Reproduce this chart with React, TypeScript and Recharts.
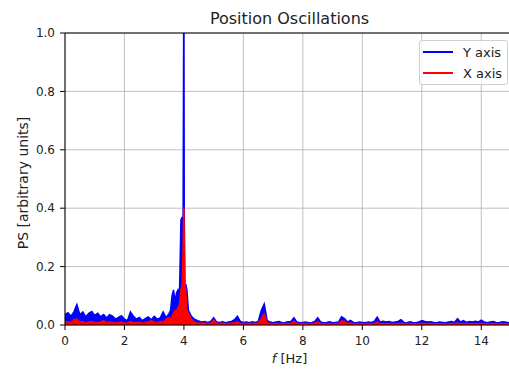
import React from "react";
import { ComposedChart, Area, XAxis, YAxis, CartesianGrid, ReferenceLine } from "recharts";

// Frequency grid (Hz)
const freqLow = [0, 0.1, 0.2, 0.3, 0.4, 0.5, 0.6, 0.7, 0.8, 0.9, 1.0, 1.1, 1.2, 1.3, 1.4, 1.5, 1.6, 1.7, 1.8, 1.9, 2.0, 2.1, 2.2, 2.3, 2.4, 2.5, 2.6, 2.7, 2.8, 2.9, 3.0, 3.1, 3.2, 3.3, 3.4, 3.5];
const freqPeak = [3.55, 3.6, 3.65, 3.7, 3.75, 3.8, 3.85, 3.9, 3.94, 3.97, 3.99, 4.0, 4.01, 4.03, 4.06, 4.1, 4.15, 4.2, 4.25, 4.3, 4.35, 4.4, 4.45];
const freqHigh = [4.5, 4.6, 4.7, 4.8, 4.9, 5.0, 5.1, 5.2, 5.3, 5.4, 5.5, 5.6, 5.7, 5.8, 5.9, 6.0, 6.1, 6.2, 6.3, 6.4, 6.5, 6.6, 6.7, 6.8, 6.9, 7.0, 7.1, 7.2, 7.3, 7.4, 7.5, 7.6, 7.7, 7.8, 7.9, 8.0, 8.1, 8.2, 8.3, 8.4, 8.5, 8.6, 8.7, 8.8, 8.9, 9.0, 9.1, 9.2, 9.3, 9.4, 9.5, 9.6, 9.7, 9.8, 9.9, 10.0, 10.1, 10.2, 10.3, 10.4, 10.5, 10.6, 10.7, 10.8, 10.9, 11.0, 11.1, 11.2, 11.3, 11.4, 11.5, 11.6, 11.7, 11.8, 11.9, 12.0, 12.1, 12.2, 12.3, 12.4, 12.5, 12.6, 12.7, 12.8, 12.9, 13.0, 13.1, 13.2, 13.3, 13.4, 13.5, 13.6, 13.7, 13.8, 13.9, 14.0, 14.1, 14.2, 14.3, 14.4, 14.5, 14.6, 14.7, 14.8, 14.9, 15.0];

// Y axis power spectrum
const psYLow = [0.035, 0.042, 0.03, 0.045, 0.07, 0.035, 0.045, 0.028, 0.04, 0.046, 0.033, 0.04, 0.028, 0.036, 0.024, 0.035, 0.03, 0.02, 0.026, 0.032, 0.02, 0.015, 0.045, 0.03, 0.02, 0.026, 0.015, 0.022, 0.028, 0.018, 0.03, 0.02, 0.024, 0.045, 0.025, 0.04];
const psYPeak = [0.05, 0.1, 0.12, 0.08, 0.11, 0.12, 0.1, 0.36, 0.37, 0.3, 1.0, 1.0, 0.4, 0.13, 0.14, 0.12, 0.05, 0.04, 0.03, 0.025, 0.02, 0.018, 0.015];
const psYHigh = [0.014, 0.01, 0.012, 0.009, 0.012, 0.025, 0.01, 0.009, 0.011, 0.008, 0.01, 0.012, 0.018, 0.03, 0.012, 0.009, 0.01, 0.008, 0.011, 0.009, 0.012, 0.05, 0.072, 0.015, 0.01, 0.008, 0.01, 0.012, 0.008, 0.009, 0.011, 0.012, 0.025, 0.01, 0.008, 0.009, 0.01, 0.008, 0.009, 0.012, 0.025, 0.01, 0.008, 0.009, 0.011, 0.008, 0.009, 0.01, 0.028, 0.022, 0.01, 0.016, 0.009, 0.008, 0.01, 0.009, 0.008, 0.01, 0.009, 0.012, 0.027, 0.01, 0.013, 0.01, 0.012, 0.009, 0.01, 0.012, 0.018, 0.009, 0.008, 0.011, 0.009, 0.008, 0.01, 0.015, 0.012, 0.01, 0.011, 0.009, 0.008, 0.01, 0.009, 0.008, 0.01, 0.012, 0.009, 0.022, 0.01, 0.015, 0.009, 0.012, 0.01, 0.013, 0.01, 0.017, 0.01, 0.008, 0.01, 0.012, 0.009, 0.008, 0.011, 0.01, 0.008, 0.009];

// X axis power spectrum
const psXLow = [0.012, 0.01, 0.008, 0.018, 0.02, 0.01, 0.012, 0.008, 0.01, 0.012, 0.009, 0.008, 0.01, 0.015, 0.008, 0.01, 0.009, 0.007, 0.008, 0.01, 0.007, 0.006, 0.012, 0.009, 0.008, 0.01, 0.006, 0.008, 0.01, 0.015, 0.01, 0.008, 0.012, 0.01, 0.02, 0.025];
const psXPeak = [0.02, 0.03, 0.04, 0.05, 0.05, 0.06, 0.07, 0.12, 0.14, 0.25, 0.4, 0.4, 0.3, 0.14, 0.12, 0.05, 0.04, 0.03, 0.02, 0.015, 0.01, 0.008, 0.007];
const psXHigh = [0.007, 0.006, 0.006, 0.005, 0.006, 0.016, 0.005, 0.005, 0.006, 0.004, 0.005, 0.006, 0.008, 0.012, 0.005, 0.005, 0.005, 0.004, 0.006, 0.005, 0.007, 0.022, 0.038, 0.008, 0.005, 0.004, 0.005, 0.005, 0.004, 0.005, 0.005, 0.006, 0.012, 0.005, 0.004, 0.005, 0.005, 0.004, 0.005, 0.006, 0.011, 0.005, 0.004, 0.004, 0.005, 0.004, 0.004, 0.005, 0.014, 0.012, 0.005, 0.007, 0.004, 0.004, 0.005, 0.004, 0.004, 0.005, 0.004, 0.005, 0.009, 0.004, 0.005, 0.004, 0.005, 0.004, 0.004, 0.005, 0.006, 0.004, 0.004, 0.005, 0.004, 0.004, 0.004, 0.006, 0.005, 0.004, 0.005, 0.004, 0.004, 0.004, 0.004, 0.004, 0.004, 0.005, 0.004, 0.007, 0.004, 0.005, 0.004, 0.005, 0.004, 0.005, 0.004, 0.006, 0.004, 0.004, 0.004, 0.005, 0.004, 0.004, 0.005, 0.004, 0.004, 0.004];

const xTicks = [0, 2, 4, 6, 8, 10, 12, 14];
const yTicks = [0, 0.2, 0.4, 0.6, 0.8, 1.0];
const seriesNames = ["Y axis", "X axis"];
const titleText = "Position Oscillations";
const yLabelText = "PS [arbitrary units]";

const freqHz = [...freqLow, ...freqPeak, ...freqHigh];
const psY = [...psYLow, ...psYPeak, ...psYHigh];
const psX = [...psXLow, ...psXPeak, ...psXHigh];
const data = freqHz.map((f, i) => ({ f, y: psY[i], x: psX[i] }));

const FONT = "'DejaVu Sans', sans-serif";
const BLUE = "#0000ff";
const RED = "#ff0000";

export default function App() {
  return (
    <div style={{ position: "absolute", left: 0, top: 0, width: 509, height: 374, overflow: "hidden", background: "#fff", fontFamily: FONT }}>
      <ComposedChart
        width={530}
        height={374}
        data={data}
        margin={{ top: 33, left: 0, right: 19, bottom: 0 }}
        style={{ position: "absolute", left: 0, top: 0 }}
      >
        <CartesianGrid stroke="#b0b0b0" strokeWidth={0.8} />
        <XAxis
          dataKey="f"
          type="number"
          domain={[0, 15]}
          ticks={xTicks}
          allowDataOverflow
          height={49}
          tickSize={5}
          tickMargin={6}
          stroke="#000"
          tick={{ fill: "#222", fontSize: 12, fontFamily: FONT }}
          tickLine={{ stroke: "#000" }}
        />
        <YAxis
          type="number"
          domain={[0, 1]}
          ticks={yTicks}
          allowDataOverflow
          width={65}
          tickSize={5}
          tickMargin={5}
          stroke="#000"
          tickFormatter={(v: number) => v.toFixed(1)}
          tick={{ fill: "#222", fontSize: 12, fontFamily: FONT }}
          tickLine={{ stroke: "#000" }}
        />
        <Area
          dataKey="y"
          name={seriesNames[0]}
          type="linear"
          stroke={BLUE}
          strokeWidth={1.5}
          fill={BLUE}
          fillOpacity={1}
          dot={false}
          activeDot={false}
          isAnimationActive={false}
        />
        <Area
          dataKey="x"
          name={seriesNames[1]}
          type="linear"
          stroke={RED}
          strokeWidth={1.5}
          fill={RED}
          fillOpacity={1}
          dot={false}
          activeDot={false}
          isAnimationActive={false}
        />
        <ReferenceLine y={1} stroke="#000" strokeWidth={1} />
      </ComposedChart>

      <div style={{ position: "absolute", left: 0, width: 579, top: 9, textAlign: "center", fontSize: 16, color: "#222", whiteSpace: "nowrap" }}>
        {titleText}
      </div>
      <div style={{ position: "absolute", left: 0, width: 579, top: 351, textAlign: "center", fontSize: 13, color: "#222", whiteSpace: "nowrap" }}>
        <span style={{ fontStyle: "italic" }}>f</span> [Hz]
      </div>
      <div
        style={{
          position: "absolute",
          left: 23,
          top: 183,
          transform: "translate(-50%, -50%) rotate(-90deg)",
          fontSize: 14,
          color: "#222",
          whiteSpace: "nowrap",
        }}
      >
        {yLabelText}
      </div>

      <div
        style={{
          position: "absolute",
          left: 419,
          top: 40,
          width: 87,
          height: 43,
          border: "1px solid #d0d0d0",
          borderRadius: 3,
          background: "rgba(255,255,255,0.8)",
          fontSize: 13,
          color: "#222",
        }}
      >
        {seriesNames.map((n, i) => (
          <div key={n} style={{ position: "absolute", left: 3, top: 2 + i * 21, height: 18, display: "flex", alignItems: "center" }}>
            <span style={{ display: "inline-block", width: 30, height: 2, background: i === 0 ? BLUE : RED, marginRight: 10 }} />
            <span>{n}</span>
          </div>
        ))}
      </div>
    </div>
  );
}
